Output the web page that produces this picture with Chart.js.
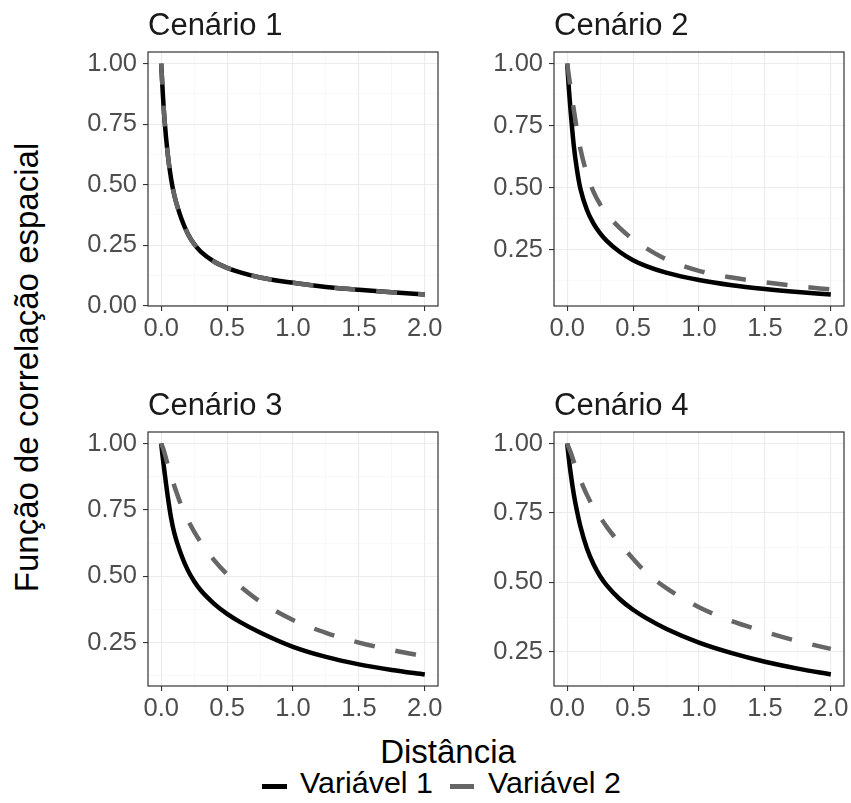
<!DOCTYPE html>
<html>
<head>
<meta charset="utf-8">
<script src="https://cdn.jsdelivr.net/npm/chart.js@4.4.1/dist/chart.umd.min.js"></script>
<style>
    body { margin: 0; background: #fff; font-family: 'Liberation Sans', Arial, sans-serif; }
    #wrap { position: relative; width: 851px; height: 803px; overflow: hidden; }
    canvas { position: absolute; }
    .txt { position: absolute; white-space: nowrap; line-height: 1; }
    .strip { font-size: 31px; color: #1A1A1A; }
    .key { position: absolute; height: 5px; }
</style>
</head>
<body>
<div id="wrap">
    <canvas id="chart1" width="405" height="314" style="left:48px; top:37px;"></canvas>
    <canvas id="chart2" width="405" height="314" style="left:454px; top:37px;"></canvas>
    <canvas id="chart3" width="405" height="314" style="left:48px; top:417px;"></canvas>
    <canvas id="chart4" width="405" height="314" style="left:454px; top:417px;"></canvas>

    <div class="txt strip" style="left:148px; top:9px;">Cenário 1</div>
    <div class="txt strip" style="left:554px; top:9px;">Cenário 2</div>
    <div class="txt strip" style="left:148px; top:389px;">Cenário 3</div>
    <div class="txt strip" style="left:554px; top:389px;">Cenário 4</div>

    <div class="txt" style="left:-224px; top:351px; width:500px; text-align:center; font-size:33px; transform:rotate(-90deg);">Função de correlação espacial</div>
    <div class="txt" style="left:448px; top:735px; font-size:33px; transform:translateX(-50%);">Distância</div>

    <div class="key" style="left:262px; top:784px; width:25px; background:#000;"></div>
    <div class="txt" style="left:300px; top:767px; font-size:30.4px;">Variável 1</div>
    <div class="key" style="left:450px; top:784px; width:24px; background:#666;"></div>
    <div class="txt" style="left:488px; top:767px; font-size:30.4px;">Variável 2</div>
</div>

<script>
// distancias (eixo x)
const dist = [0, 0.0125, 0.025, 0.05, 0.075, 0.1, 0.15, 0.2, 0.25, 0.3, 0.4, 0.5, 0.6, 0.75, 1.0, 1.25, 1.5, 1.75, 2.0];

// Cenário 1
const c1v1 = [1.00, 0.875, 0.77, 0.625, 0.525, 0.455, 0.365, 0.30, 0.255, 0.224, 0.183, 0.157, 0.138, 0.117, 0.095, 0.078, 0.066, 0.056, 0.047];
const c1v2 = [1.00, 0.875, 0.77, 0.625, 0.525, 0.455, 0.365, 0.30, 0.255, 0.224, 0.183, 0.157, 0.138, 0.117, 0.095, 0.078, 0.066, 0.056, 0.047];
// Cenário 2
const c2v1 = [1.00, 0.90, 0.815, 0.67, 0.57, 0.497, 0.41, 0.355, 0.316, 0.286, 0.241, 0.208, 0.184, 0.158, 0.128, 0.107, 0.092, 0.080, 0.070];
const c2v2 = [1.00, 0.952, 0.905, 0.815, 0.73, 0.657, 0.555, 0.483, 0.433, 0.395, 0.337, 0.292, 0.256, 0.212, 0.165, 0.138, 0.119, 0.103, 0.090];
// Cenário 3
const c3v1 = [1.00, 0.945, 0.895, 0.80, 0.72, 0.662, 0.584, 0.525, 0.481, 0.447, 0.397, 0.358, 0.327, 0.288, 0.234, 0.196, 0.168, 0.147, 0.130];
const c3v2 = [1.00, 0.985, 0.965, 0.92, 0.88, 0.84, 0.77, 0.715, 0.668, 0.628, 0.562, 0.507, 0.462, 0.405, 0.335, 0.287, 0.250, 0.222, 0.198];
// Cenário 4
const c4v1 = [1.00, 0.946, 0.898, 0.818, 0.755, 0.702, 0.622, 0.565, 0.522, 0.489, 0.439, 0.401, 0.371, 0.333, 0.283, 0.245, 0.214, 0.189, 0.168];
const c4v2 = [1.00, 0.985, 0.97, 0.935, 0.90, 0.87, 0.815, 0.77, 0.735, 0.70, 0.64, 0.585, 0.535, 0.48, 0.41, 0.36, 0.322, 0.288, 0.26];

// ticks
const xTicks = [0, 0.5, 1, 1.5, 2];
const xGrid = [0, 0.25, 0.5, 0.75, 1, 1.25, 1.5, 1.75, 2];
const yTicks = [0, 0.25, 0.5, 0.75, 1];
const yGrid = [0, 0.125, 0.25, 0.375, 0.5, 0.625, 0.75, 0.875, 1];

const fontFamily = "'Liberation Sans', Arial, sans-serif";

const panelBorder = {
    id: 'panelBorder',
    afterDraw(chart) {
        const a = chart.chartArea;
        const ctx = chart.ctx;
        ctx.save();
        ctx.strokeStyle = '#333333';
        ctx.lineWidth = 1.2;
        ctx.strokeRect(a.left, a.top, a.right - a.left, a.bottom - a.top);
        ctx.restore();
    }
};

function isMajor(list, v) {
    return list.some(t => Math.abs(t - v) < 1e-9);
}

function makePanel(id, v1, v2) {
    const all = v1.concat(v2);
    const lo = Math.min(...all), hi = Math.max(...all);
    const pad = (hi - lo) * 0.05;

    return new Chart(document.querySelector(id), {
        type: 'line',
        data: {
            datasets: [
                {
                    label: 'Variável 1',
                    data: dist.map((d, i) => ({ x: d, y: v1[i] })),
                    borderColor: '#000000',
                    borderWidth: 4.5,
                    pointRadius: 0,
                    cubicInterpolationMode: 'monotone',
                    order: 1,
                },
                {
                    label: 'Variável 2',
                    data: dist.map((d, i) => ({ x: d, y: v2[i] })),
                    borderColor: '#666666',
                    borderWidth: 4.5,
                    borderDash: [21, 21],
                    pointRadius: 0,
                    cubicInterpolationMode: 'monotone',
                    order: 0,
                },
            ]
        },
        options: {
            responsive: false,
            animation: false,
            layout: { padding: { top: 15, right: 15, left: 0, bottom: 0 } },
            scales: {
                x: {
                    type: 'linear',
                    min: -0.1,
                    max: 2.1,
                    afterBuildTicks: s => { s.ticks = xGrid.map(v => ({ value: v })); },
                    afterFit: s => { s.height = 45; s.paddingLeft = 0; s.paddingRight = 0; },
                    border: { display: false },
                    grid: {
                        color: c => isMajor(xTicks, c.tick.value) ? '#EBEBEB' : '#F3F3F3',
                        lineWidth: c => isMajor(xTicks, c.tick.value) ? 1.1 : 0.6,
                        tickColor: c => isMajor(xTicks, c.tick.value) ? '#333333' : 'rgba(0,0,0,0)',
                        tickWidth: 1.1,
                        tickLength: 5,
                    },
                    ticks: {
                        autoSkip: false,
                        maxRotation: 0,
                        padding: 3,
                        color: '#4D4D4D',
                        font: { family: fontFamily, size: 25.5 },
                        callback: v => isMajor(xTicks, v) ? v.toFixed(1) : '',
                    }
                },
                y: {
                    type: 'linear',
                    min: lo - pad,
                    max: hi + pad,
                    afterBuildTicks: s => {
                        s.ticks = yGrid.filter(v => v >= s.min - 1e-3 && v <= s.max).map(v => ({ value: v }));
                    },
                    afterFit: s => { s.width = 100; s.paddingTop = 0; s.paddingBottom = 0; },
                    border: { display: false },
                    grid: {
                        color: c => isMajor(yTicks, c.tick.value) ? '#EBEBEB' : '#F3F3F3',
                        lineWidth: c => isMajor(yTicks, c.tick.value) ? 1.1 : 0.6,
                        tickColor: c => isMajor(yTicks, c.tick.value) ? '#333333' : 'rgba(0,0,0,0)',
                        tickWidth: 1.1,
                        tickLength: 5,
                    },
                    ticks: {
                        autoSkip: false,
                        padding: 6,
                        color: '#4D4D4D',
                        font: { family: fontFamily, size: 25.5 },
                        callback: v => isMajor(yTicks, v) ? v.toFixed(2) : '',
                    }
                }
            },
            plugins: {
                legend: { display: false },
                tooltip: { enabled: false },
            }
        },
        plugins: [panelBorder],
    });
}

// CENÁRIOS
const chart1 = makePanel('#chart1', c1v1, c1v2);
const chart2 = makePanel('#chart2', c2v1, c2v2);
const chart3 = makePanel('#chart3', c3v1, c3v2);
const chart4 = makePanel('#chart4', c4v1, c4v2);
</script>
</body>
</html>
